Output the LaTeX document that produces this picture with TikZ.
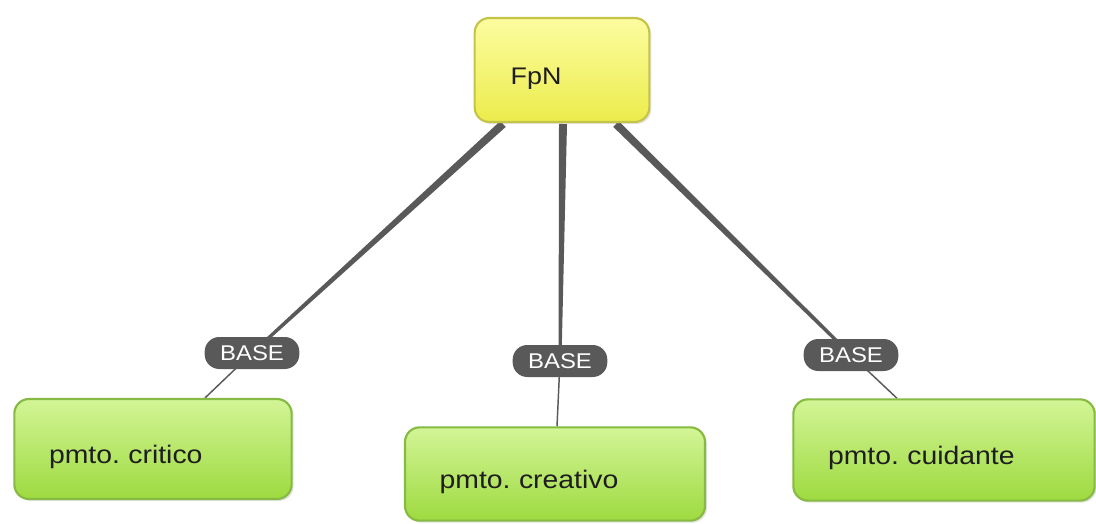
\documentclass[tikz,border=0pt]{standalone}
\usepackage{fontspec}
\setmainfont{Liberation Sans}[FakeStretch=1.12]
\frenchspacing
\usetikzlibrary{positioning,calc,shadows,backgrounds}
\usepackage{xcolor}
\definecolor{edgegray}{HTML}{595959}
\definecolor{fpnline}{HTML}{C4C448}
\definecolor{pmtoline}{HTML}{86BA42}
\definecolor{conceptText}{HTML}{1E1E1E}

\tikzset{
  fpnbox/.style={rounded corners=11pt, draw=fpnline, line width=1.6pt,
    top color={rgb,255:red,252;green,252;blue,160}, bottom color={rgb,255:red,236;green,236;blue,76},
    drop shadow={opacity=0.22, shadow xshift=1.5pt, shadow yshift=-1.5pt},
    inner xsep=27pt, align=left, text=conceptText, text height=25pt,
    font=\fontsize{18}{21}\selectfont},
  pmtobox/.style={rounded corners=11pt, draw=pmtoline, line width=1.6pt,
    top color={rgb,255:red,210;green,245;blue,150}, bottom color={rgb,255:red,158;green,218;blue,64},
    drop shadow={opacity=0.22, shadow xshift=1.5pt, shadow yshift=-1.5pt},
    inner xsep=26pt, align=left, text=conceptText, text height=26pt,
    font=\fontsize{19}{22}\selectfont},
  baselabel/.style={rounded corners=11pt, fill=edgegray, text=white, inner sep=0pt,
    minimum width=71pt, minimum height=24pt, font=\fontsize{16}{18}\selectfont},
  thinlink/.style={edgegray, line width=1.1pt}
}

\begin{document}
\begin{tikzpicture}[x=0.75pt, y=-0.75pt]
        \useasboundingbox (0,0) rectangle (1096,524);

        % Top concept
        \node[fpnbox, text width=77pt, minimum height=78pt] (fpn) at (562,70) {FpN};
        \coordinate (fpnl) at (503,124);
        \coordinate (fpnm) at (563,124);
        \coordinate (fpnr) at (616,124);

        % Linking phrases
        \node[baselabel] (basel) at (252,353) {BASE};
        \node[baselabel] (basem) at (560,361) {BASE};
        \node[baselabel] (baser) at (851,355) {BASE};

        % Lower concepts
        \node[pmtobox, text width=156pt, minimum height=75pt] (critico) at (153,449) {pmto. critico};
        \node[pmtobox, text width=173pt, minimum height=70pt] (creativo) at (555,474) {pmto. creativo};
        \node[pmtobox, text width=174pt, minimum height=76pt] (cuidante) at (944,450) {pmto. cuidante};

        \begin{pgfonlayer}{background}
        % Thick tapered links
        \fill[edgegray] ($(fpnl)!3pt!90:(basel)$) -- ($(basel)!1.1pt!-90:(fpnl)$) -- ($(basel)!1.1pt!90:(fpnl)$) -- ($(fpnl)!3pt!-90:(basel)$) -- cycle;
        \fill[edgegray] ($(fpnm)!3pt!90:(basem)$) -- ($(basem)!1.1pt!-90:(fpnm)$) -- ($(basem)!1.1pt!90:(fpnm)$) -- ($(fpnm)!3pt!-90:(basem)$) -- cycle;
        \fill[edgegray] ($(fpnr)!3pt!90:(baser)$) -- ($(baser)!1.1pt!-90:(fpnr)$) -- ($(baser)!1.1pt!90:(fpnr)$) -- ($(fpnr)!3pt!-90:(baser)$) -- cycle;

        % Thin links
        \draw[thinlink] (basel.center) -- (critico.north -| 205,0);
        \draw[thinlink] (basem.center) -- (creativo.north -| 557,0);
        \draw[thinlink] (baser.center) -- (cuidante.north -| 897,0);
        \end{pgfonlayer}
    \end{tikzpicture}
\end{document}
